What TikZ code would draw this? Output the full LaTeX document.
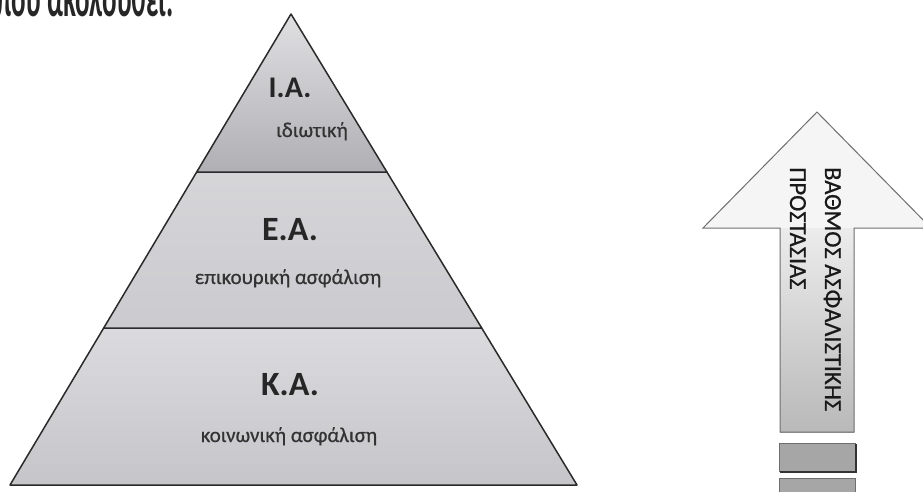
\documentclass[tikz,border=0pt]{standalone}
\usepackage{fontspec}
\setmainfont{Carlito}
\newfontfamily\heavyfont[FakeBold=0.6]{Carlito}
\definecolor{edge}{HTML}{2A2A2A}
\definecolor{tierlight}{HTML}{D2D2D6}
\definecolor{tiermid}{HTML}{CBCBCF}
\definecolor{tiertop}{HTML}{B0B0B4}
\definecolor{arrowedge}{HTML}{6E6E70}
\begin{document}
\begin{tikzpicture}[x=1pt,y=-1pt,
  tier/.style={draw=edge,line width=1.5pt,line join=round},
  head/.style={font=\fontsize{34}{38}\selectfont\bfseries,text=black!85,inner sep=0pt,anchor=base},
  sub/.style={font=\heavyfont\fontsize{21}{24}\selectfont,text=black!80,inner sep=0pt,anchor=base},
  arrowtext/.style={font=\heavyfont\fontsize{24.5}{26}\selectfont,text=black!90,inner sep=0pt,rotate=-90,anchor=base west},
  block/.style={draw=arrowedge,line width=0.8pt,fill=gray!70}]
\useasboundingbox (0,0) rectangle (923,491);
\clip (0,0) rectangle (923,491);
% cropped line of text above the figure
\node[font=\fontsize{27}{30}\selectfont\bfseries,text=black!85,anchor=base east,inner sep=0pt,yscale=2] (prev) at (174,16) {που ακολουθεί.};
% pyramid tiers
\shade[tier,top color=tierlight!80!white,bottom color=tierlight!85!gray] (103.7,328) -- (481.7,328) -- (577,485) -- (10,485) -- cycle;
\shade[tier,top color=tiermid!80!white,bottom color=tiermid] (196.7,172) -- (386.9,172) -- (481.7,328) -- (103.7,328) -- cycle;
\shade[tier,top color=tierlight!70!white,bottom color=tiertop] (291,14) -- (386.9,172) -- (196.7,172) -- cycle;
% labels
\node[head,font=\fontsize{30}{34}\selectfont\bfseries] (ia) at (290,97) {I.A.};
\node[sub] (iasub) at (312,137) {ιδιωτική};
\node[head] (ea) at (290,240) {E.A.};
\node[sub] (easub) at (288,284) {επικουρική ασφάλιση};
\node[head] (ka) at (290,395) {K.A.};
\node[sub] (kasub) at (289,442) {κοινωνική ασφάλιση};
% arrow
\fill[gray!8] (817,112) -- (931,228) -- (703,228) -- cycle;
\shade[top color=gray!15,bottom color=gray!55] (780,228) rectangle (854,432);
\draw[arrowedge,line width=1pt,line join=miter] (780,228) -- (703,228) -- (817,112) -- (931,228) -- (854,228) -- (854,432) -- (780,432) -- cycle;
\node[arrowtext] (t1) at (825,167) {ΒΑΘΜΟΣ ΑΣΦΑΛΙΣΤΙΚΗΣ};
\node[arrowtext] (t2) at (790,167) {ΠΡΟΣΤΑΣΙΑΣ};
\draw[block] (779,443) rectangle (855,471);
\draw[black!80,line width=1.6pt] (780,472) -- (856,472) -- (856,444);
\draw[block] (779,478) rectangle (855,500);
\end{tikzpicture}
\end{document}
